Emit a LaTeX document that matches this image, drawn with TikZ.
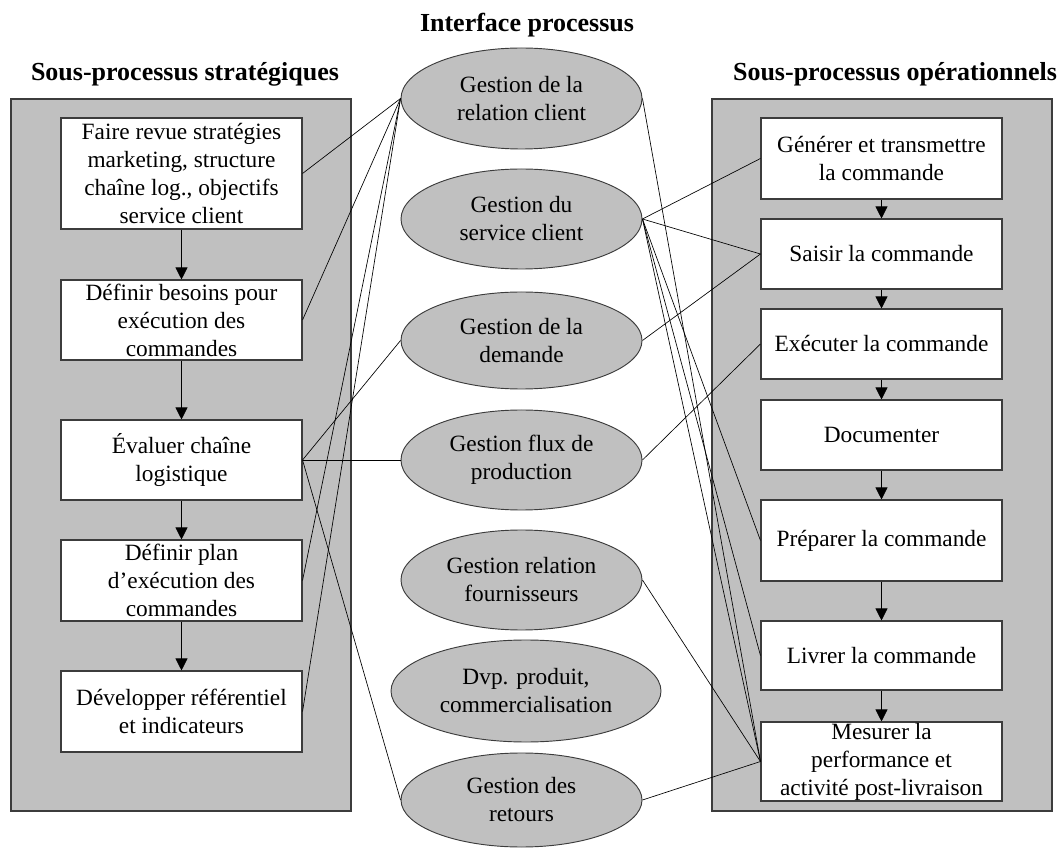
\documentclass[tikz,border=0pt]{standalone}
\usepackage{fontspec}
\setmainfont{Liberation Serif}
\usetikzlibrary{arrows.meta,shapes.geometric}
\definecolor{panelgray}{RGB}{192,192,192}
\definecolor{edgegray}{RGB}{60,60,60}
\newcommand{\myBody}{\fontsize{17.5}{21}\selectfont}
\newcommand{\myTitle}{\fontsize{19.5}{23}\selectfont\bfseries}
\begin{document}
\begin{tikzpicture}[x=0.75pt,y=-0.75pt,
  panel/.style={draw=edgegray,line width=1.2pt,fill=panelgray},
  stepbox/.style={draw=edgegray,line width=0.8pt,fill=white,rectangle,inner sep=0pt,minimum width=180.75pt,align=center,font=\myBody},
  proc/.style={draw=edgegray,line width=0.7pt,fill=panelgray,ellipse,inner sep=0pt,minimum width=180.75pt,minimum height=75pt,align=center,font=\myBody},
  title/.style={font=\myTitle,anchor=base},
  link/.style={draw=black,line width=0.5pt},
  flow/.style={draw=black,line width=0.6pt,-{Triangle[length=9pt,width=9pt]}}
]
\useasboundingbox (0,0) rectangle (1061,848);

% panels
\path[panel] (11,99) rectangle (351,811);
\path[panel] (712,99) rectangle (1052,811);

% titles
\node[title] (tl) at (185,81) {Sous-processus stratégiques};
\node[title] (tr) at (895,81) {Sous-processus opérationnels};
\node[title] (tc) at (527,32) {Interface processus};

% strategic sub-processes
\node[stepbox,minimum height=83.25pt] (L1) at (181.5,173.5) {Faire revue stratégies\\marketing, structure\\chaîne log., objectifs\\service client};
\node[stepbox,minimum height=60pt] (L2) at (181.5,320) {Définir besoins pour\\exécution des\\commandes};
\node[stepbox,minimum height=60pt] (L3) at (181.5,460) {Évaluer chaîne\\logistique};
\node[stepbox,minimum height=60.75pt] (L4) at (181.5,580.5) {Définir plan\\d’exécution des\\commandes};
\node[stepbox,minimum height=60.75pt] (L5) at (181.5,711.5) {Développer référentiel\\et indicateurs};

% operational sub-processes
\node[stepbox,minimum height=60.75pt] (R1) at (881.5,158.5) {Générer et transmettre\\la commande};
\node[stepbox,minimum height=52.5pt] (R2) at (881.5,254) {Saisir la commande};
\node[stepbox,minimum height=52.5pt] (R3) at (881.5,344) {Exécuter la commande};
\node[stepbox,minimum height=52.5pt] (R4) at (881.5,435) {Documenter};
\node[stepbox,minimum height=60.75pt] (R5) at (881.5,540.5) {Préparer la commande};
\node[stepbox,minimum height=51.75pt] (R6) at (881.5,655.5) {Livrer la commande};
\node[stepbox,minimum height=59.25pt] (R7) at (881.5,761.5) {Mesurer la\\performance et\\activité post-livraison};

% interface processes
\node[proc,minimum height=75.75pt] (E1) at (521.5,98.5) {Gestion de la\\relation client};
\node[proc] (E2) at (521.5,219) {Gestion du\\service client};
\node[proc,minimum height=72.75pt] (E3) at (521.5,340.5) {Gestion de la\\demande};
\node[proc] (E4) at (521.5,460) {Gestion flux de\\production};
\node[proc] (E5) at (521.5,580) {Gestion relation\\fournisseurs};
\node[proc,minimum width=202.5pt,minimum height=76.5pt] (E6) at (526,691) {Dvp. produit,\\commercialisation};
\node[proc,minimum height=70.5pt] (E7) at (521.5,800) {Gestion des\\retours};

% flows
\draw[flow] (L1) -- (L2);
\draw[flow] (L2) -- (L3);
\draw[flow] (L3) -- (L4);
\draw[flow] (L4) -- (L5);
\draw[flow] (R1) -- (R2);
\draw[flow] (R2) -- (R3);
\draw[flow] (R3) -- (R4);
\draw[flow] (R4) -- (R5);
\draw[flow] (R5) -- (R6);
\draw[flow] (R6) -- (R7);

% links left
\draw[link] (L1.east) -- (E1.west);
\draw[link] (L2.east) -- (E1.west);
\draw[link] (L4.east) -- (E1.west);
\draw[link] (L5.east) -- (E1.west);
\draw[link] (L3.east) -- (E3.west);
\draw[link] (L3.east) -- (E4.west);
\draw[link] (L3.east) -- (E7.west);

% links right
\draw[link] (E1.east) -- (R7.west);
\draw[link] (E2.east) -- (R1.west);
\draw[link] (E2.east) -- (R2.west);
\draw[link] (E2.east) -- (R5.west);
\draw[link] (E2.east) -- (R6.west);
\draw[link] (E2.east) -- (R7.west);
\draw[link] (E3.east) -- (R2.west);
\draw[link] (E4.east) -- (R3.west);
\draw[link] (E5.east) -- (R7.west);
\draw[link] (E7.east) -- (R7.west);
\end{tikzpicture}
\end{document}
